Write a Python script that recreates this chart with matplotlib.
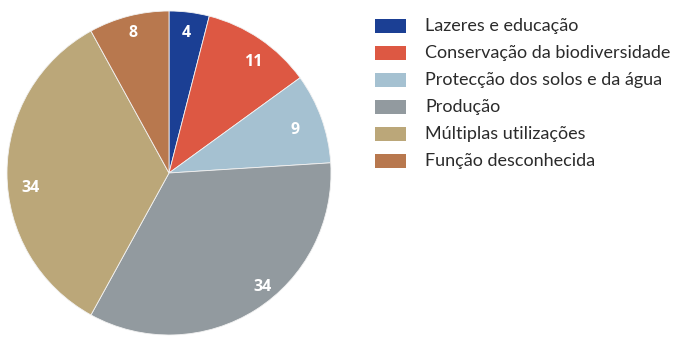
import matplotlib
matplotlib.use("Agg")
import matplotlib.pyplot as plt
from matplotlib.patches import Rectangle
import numpy as np

categories = [
    "Lazeres e educação",
    "Conservação da biodiversidade",
    "Protecção dos solos e da água",
    "Produção",
    "Múltiplas utilizações",
    "Função desconhecida",
]
values = [4, 11, 9, 34, 34, 8]
colors = ["#1B3F94", "#DD5843", "#A5C1D1", "#929A9F", "#BBA779", "#B8784E"]

W, H = 673, 337
fig = plt.figure(figsize=(W / 100, H / 100), dpi=100)

cx, cy, r = 169, 173, 162
ax = fig.add_axes([(cx - r) / W, (H - cy - r) / H, 2 * r / W, 2 * r / H])
wedges, _ = ax.pie(values, colors=colors, startangle=90, counterclock=False,
                   radius=1.0, wedgeprops=dict(edgecolor="#f2f2f2", linewidth=0.6))
ax.set_xlim(-1, 1)
ax.set_ylim(-1, 1)
ax.set_aspect("equal")
ax.axis("off")

# value labels placed inside each wedge
angle_shift = [0, -3, -1, 7, 6, 0]
dist = [0.87, 0.86, 0.82, 0.91, 0.86, 0.89]
for w, v, da, d in zip(wedges, values, angle_shift, dist):
    ang = np.deg2rad((w.theta1 + w.theta2) / 2 + da)
    ax.text(d * np.cos(ang), d * np.sin(ang), str(v), ha="center", va="center",
            color="white", fontsize=11.5, fontweight="bold", family="Open Sans")

# legend drawn as swatches and texts
x0, y_first, step = 375, 26, 27
for i, (lab, col) in enumerate(zip(categories, colors)):
    yc = y_first + i * step
    fig.add_artist(Rectangle((x0 / W, (H - yc - 7) / H), 31 / W, 14 / H,
                             transform=fig.transFigure, facecolor=col, edgecolor="none"))
    fig.text(425 / W, (H - yc) / H, lab, ha="left", va="center", fontsize=13,
             color="#2b2b2b", family="Lato")

fig.savefig("out.png", dpi=100)
